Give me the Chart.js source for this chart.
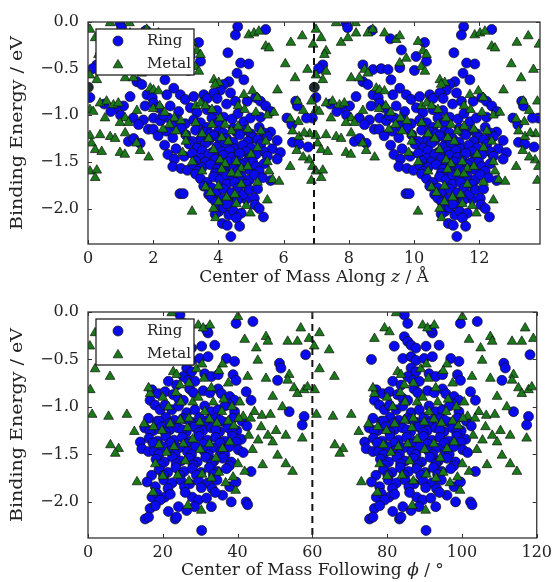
<!DOCTYPE html>
<html>
<head>
<meta charset="utf-8">
<script src="https://cdn.jsdelivr.net/npm/chart.js@4/dist/chart.umd.min.js"></script>
<style>
  html, body { margin: 0; padding: 0; background: #fff; }
  #wrap { position: relative; width: 557px; height: 582px; }
  canvas { position: absolute; left: 0; }
  #alongZ { top: 0; }
  #followPhi { top: 290px; }
</style>
</head>
<body>
<div id="wrap">
  <canvas id="alongZ" width="557" height="290"></canvas>
  <canvas id="followPhi" width="557" height="292"></canvas>
</div>
<script>
// Binding energies (eV) against centre-of-mass position, one period of each
// coordinate; the second period is the periodic image of the same points.
const zPeriod = 6.93;      // Å
const phiPeriod = 60;      // degrees
const zTicks = [0, 2, 4, 6, 8, 10, 12];
const phiTicks = [0, 20, 40, 60, 80, 100, 120];
const energyTicks = [0, -0.5, -1.0, -1.5, -2.0];

const ringAlongZ = [
  [0.98,-0.01],[1.03,-0.06],[4.59,-0.05],[4.52,-0.14],[5.45,-0.08],[1.78,-0.09],[2.34,-0.18],
  [3.39,-0.22],[2.68,-0.30],[3.13,-0.37],[3.45,-0.42],[4.29,-0.33],[4.68,-0.44],[4.93,-0.45],
  [1.50,-0.46],[1.81,-0.51],[2.06,-0.50],[2.27,-0.51],[2.63,-0.49],[3.08,-0.52],[0.27,-0.46],
  [0.14,-0.50],[4.57,-0.55],[4.78,-0.62],[4.32,-0.64],[4.16,-0.67],[4.06,-0.73],[2.36,-0.62],
  [2.63,-0.71],[2.42,-0.78],[1.50,-0.64],[1.65,-0.67],[1.81,-0.78],[1.97,-0.81],[1.29,-0.80],
  [2.83,-0.78],[2.98,-0.83],[3.24,-0.80],[3.55,-0.78],[3.65,-0.82],[3.86,-0.76],[3.96,-0.82],
  [4.37,-0.76],[4.52,-0.85],[4.88,-0.85],[5.14,-0.81],[5.29,-0.85],[5.45,-0.90],[5.60,-0.96],
  [6.37,-0.85],[6.42,-0.90],[6.88,-1.03],[0.06,-0.81],[1.09,-0.90],[0.83,-0.92],[1.75,-0.90],
  [2.01,-0.87],[2.16,-0.92],[2.52,-0.90],[2.78,-0.96],[3.14,-0.92],[3.34,-0.97],[3.65,-0.94],
  [1.39,-1.03],[1.70,-1.05],[2.01,-1.03],[2.22,-1.06],[2.47,-1.03],[2.72,-1.05],[2.98,-1.09],
  [3.24,-1.05],[3.80,-1.03],[4.01,-1.07],[4.16,-1.02],[4.42,-1.04],[4.78,-1.07],[4.98,-1.03],
  [5.29,-1.02],[6.10,-1.03],[6.25,-1.10],[6.70,-1.03],
  [0.50,-0.88],[0.70,-0.96],[1.00,-1.00],[1.55,-1.10],[1.85,-1.15],[2.30,-1.00],[2.60,-1.12],
  [3.45,-1.08],[3.95,-0.95],[4.25,-0.88],[4.60,-0.98],
  [2.00,-1.15],[2.40,-1.17],[2.85,-1.14],[3.30,-1.16],[3.65,-1.13],[4.00,-1.17],[4.45,-1.14],
  [4.85,-1.16],[5.25,-1.13],[5.60,-1.18],[6.27,-1.29],[6.47,-1.31],[6.75,-1.34],
  [3.55,-1.18],[3.75,-1.20],[4.15,-1.19],[4.55,-1.18],[5.00,-1.20],[5.40,-1.19],
  [1.24,-1.28],[1.60,-1.30],[1.40,-1.25],[2.15,-1.22],[2.60,-1.24],[3.00,-1.21],[3.45,-1.26],
  [3.85,-1.22],[4.25,-1.25],[4.65,-1.21],[5.05,-1.24],[5.50,-1.23],[5.80,-1.27],
  [3.20,-1.28],[3.70,-1.27],[4.05,-1.27],[4.45,-1.29],[4.90,-1.28],[5.20,-1.26],
  [2.35,-1.32],[2.70,-1.36],[3.10,-1.31],[3.35,-1.35],[3.60,-1.30],[3.95,-1.34],[4.20,-1.30],
  [4.50,-1.36],[4.75,-1.32],[5.00,-1.35],[5.30,-1.31],[5.65,-1.36],[5.90,-1.40],
  [3.50,-1.38],[3.80,-1.40],[4.10,-1.39],[4.35,-1.38],[4.85,-1.39],[5.40,-1.39],
  [2.45,-1.42],[2.65,-1.47],[2.95,-1.44],[3.20,-1.41],[3.45,-1.46],[3.70,-1.42],[3.90,-1.47],
  [4.15,-1.43],[4.40,-1.45],[4.65,-1.41],[4.95,-1.46],[5.15,-1.42],[5.50,-1.44],[5.80,-1.47],
  [3.30,-1.49],[3.60,-1.50],[4.05,-1.51],[4.30,-1.50],[4.55,-1.49],[4.80,-1.51],[5.05,-1.50],
  [2.60,-1.55],[2.85,-1.57],[3.05,-1.59],[3.25,-1.54],[3.50,-1.56],[3.75,-1.53],[3.95,-1.58],
  [4.20,-1.55],[4.45,-1.57],[4.70,-1.53],[4.90,-1.58],[5.15,-1.55],[5.40,-1.52],
  [3.35,-1.60],[3.90,-1.62],[4.15,-1.60],[4.60,-1.60],[5.25,-1.60],
  [3.30,-1.63],[3.45,-1.68],[3.65,-1.72],[3.85,-1.66],[4.05,-1.69],[4.25,-1.64],[4.45,-1.70],
  [4.70,-1.66],[4.95,-1.69],[5.10,-1.64],[5.35,-1.67],[5.60,-1.70],
  [3.55,-1.76],[4.25,-1.74],[4.50,-1.72],[4.85,-1.74],[3.70,-1.85],[4.30,-1.88],[4.85,-1.90],
  [2.82,-1.84],[2.92,-1.84],[3.80,-1.78],[3.95,-1.82],[4.15,-1.79],[4.40,-1.83],[4.60,-1.78],
  [4.75,-1.85],[4.95,-1.80],[5.20,-1.79],[3.80,-1.89],[3.92,-1.93],[4.10,-1.90],[4.40,-1.95],
  [4.58,-1.91],[5.10,-1.89],[5.12,-1.96],[4.02,-2.03],[4.16,-1.99],[4.32,-2.07],[4.47,-2.03],
  [4.25,-1.95],[4.70,-2.05],[3.90,-2.06],[4.55,-2.10],
  [4.12,-2.16],[4.27,-2.18],[4.65,-2.19],[5.38,-2.09],[5.25,-2.00],[4.38,-2.30]
];

const metalAlongZ = [
  [0.68,-0.01],[1.27,-0.01],[0.06,-0.08],[0.22,-0.17],[0.83,-0.22],[1.04,-0.17],[1.29,-0.12],
  [1.65,-0.12],[1.80,-0.08],[2.16,-0.12],[2.52,-0.19],[2.63,-0.15],[3.19,-0.21],[3.34,-0.31],
  [3.45,-0.35],[4.93,-0.14],[5.09,-0.12],[5.24,-0.10],[5.45,-0.26],[5.55,-0.28],[6.22,-0.22],
  [6.57,-0.15],[6.90,-0.24],[0.37,-0.31],[0.32,-0.35],[0.37,-0.53],[0.27,-0.62],[0.06,-0.57],
  [1.14,-0.60],[1.39,-0.60],[1.55,-0.51],[1.65,-0.55],[1.91,-0.71],[2.01,-0.73],[2.16,-0.74],
  [2.63,-0.44],[2.83,-0.39],[3.29,-0.48],[3.40,-0.53],[3.86,-0.62],[4.01,-0.65],[3.90,-0.67],
  [4.78,-0.78],[5.04,-0.74],[5.19,-0.81],[5.81,-0.73],[6.73,-0.51],[6.42,-0.85],
  [6.05,-0.45],[6.35,-0.60],[6.60,-0.95],[6.85,-0.85],
  [0.37,-0.87],[0.57,-0.85],[0.78,-0.89],[0.93,-0.87],[0.06,-0.94],[0.16,-0.96],[0.52,-1.03],
  [1.14,-1.03],[1.24,-1.08],[0.98,-1.08],[1.50,-0.95],[2.00,-0.93],[2.20,-0.90],[2.35,-0.97],
  [2.65,-1.03],[2.85,-1.06],[3.30,-0.90],[3.45,-0.87],[3.60,-0.90],[3.80,-0.94],[4.05,-1.03],
  [4.60,-0.90],[4.80,-0.94],[5.15,-0.97],[5.50,-1.00],[5.70,-0.97],[6.20,-1.04],[6.45,-1.07],
  [6.80,-1.20],[0.06,-1.22],[0.11,-1.30],[0.37,-1.21],[0.68,-1.23],[0.83,-1.25],[0.22,-1.37],
  [0.42,-1.39],[0.98,-1.40],[1.13,-1.42],[0.06,-1.60],[0.27,-1.59],[0.22,-1.67],[1.14,-1.19],
  [1.49,-1.30],[1.60,-1.38],[1.86,-1.45],[3.19,-2.03],[3.91,-2.10],[5.50,-1.91],[4.98,-2.05],
  [5.55,-1.60],[5.66,-1.69],[5.86,-1.71],[6.47,-1.23],[6.63,-1.19],[6.27,-1.17],[6.78,-1.48],
  [6.88,-1.55],[6.40,-1.38],[6.60,-1.45],[6.20,-1.55],[6.85,-1.70],
  [3.50,-1.20],[3.70,-1.25],[4.10,-1.24],[4.30,-1.28],[4.40,-1.17],[3.85,-1.37],
  [4.05,-1.48],[4.20,-1.52],[4.55,-1.50],[4.70,-1.57],[4.40,-1.62],[4.10,-1.58],[4.60,-1.63],
  [4.90,-1.55],[5.00,-1.42],[5.20,-1.35],[5.45,-1.28],[5.30,-1.17],[4.90,-1.15],[4.60,-1.12],
  [4.20,-1.10],[3.80,-1.10],[3.30,-1.08],[3.00,-1.20],[2.70,-1.17],[2.50,-1.10],[2.30,-1.15],
  [3.60,-1.77],[3.75,-1.83],[4.00,-1.76],[4.25,-1.88],[4.50,-1.85],[4.70,-1.74],[4.55,-1.95],
  [3.85,-2.00],[4.85,-1.97],[4.00,-1.93],[5.50,-1.50],[5.20,-1.72],[2.90,-1.40],[3.20,-1.50],
  [3.50,-1.60],[3.00,-1.28]
];

// single configuration sitting on the cell boundary
const otherAlongZ = [[0.01,-0.70]];

const ringFollowPhi = [
  [24.6,-0.03],[25.5,-0.12],[39.6,-0.12],[44.1,-0.10],[24.6,-0.26],[25.5,-0.31],[26.4,-0.35],
  [27.7,-0.38],[30.4,-0.36],[33.9,-0.35],[32.1,-0.22],[31.7,-0.19],[21.9,-0.36],[15.8,-0.50],
  [24.2,-0.49],[26.4,-0.47],[27.7,-0.51],[29.9,-0.49],[32.1,-0.47],[37.0,-0.49],[39.2,-0.52],
  [58.2,-0.45],[51.2,-0.54],[51.6,-0.59],[50.7,-0.72],[26.4,-0.59],[27.7,-0.63],[25.5,-0.68],
  [26.8,-0.72],[28.6,-0.73],[31.2,-0.65],[33.0,-0.68],[34.8,-0.66],[38.8,-0.66],[39.6,-0.72],
  [21.5,-0.73],[23.7,-0.77],
  [17.1,-0.82],[18.8,-0.86],[20.6,-0.84],[22.8,-0.87],[24.2,-0.91],[25.5,-0.93],[27.2,-0.81],
  [28.2,-0.85],[30.8,-0.83],[32.6,-0.85],[34.8,-0.81],[35.7,-0.86],[37.9,-0.89],[39.2,-0.93],
  [42.3,-0.84],[43.6,-0.93],[37.5,-0.97],[16.6,-0.93],[17.9,-0.98],[19.3,-1.03],[20.6,-0.98],
  [22.4,-1.03],[24.2,-0.99],[26.4,-1.06],[28.6,-1.03],[31.2,-0.99],[33.0,-1.05],[34.8,-1.03],
  [36.6,-0.99],[39.2,-1.05],[53.8,-1.05],[57.8,-1.10],[57.3,-1.19],
  [16.2,-1.12],[18.5,-1.15],[20.8,-1.11],[23.1,-1.14],[25.4,-1.12],[27.6,-1.16],[29.8,-1.11],
  [32.0,-1.14],[34.3,-1.12],[36.5,-1.16],[38.7,-1.12],[41.2,-1.15],
  [19.0,-1.15],[21.9,-1.17],[26.4,-1.13],[30.9,-1.17],[35.4,-1.14],
  [15.2,-1.22],[17.4,-1.25],[19.6,-1.21],[21.9,-1.24],[24.1,-1.22],[26.3,-1.26],[28.5,-1.21],
  [30.7,-1.25],[33.0,-1.22],[35.2,-1.26],[37.5,-1.22],[39.8,-1.25],[42.5,-1.20],
  [16.5,-1.25],[20.7,-1.27],[25.2,-1.24],[29.6,-1.27],[34.1,-1.24],[38.6,-1.27],
  [14.0,-1.37],[14.4,-1.44],[16.3,-1.33],[18.6,-1.36],[20.8,-1.31],[23.0,-1.35],[25.2,-1.32],
  [27.4,-1.36],[29.7,-1.31],[31.9,-1.35],[34.1,-1.32],[36.4,-1.36],[38.6,-1.31],[41.0,-1.34],
  [17.4,-1.38],[22.0,-1.38],[26.3,-1.39],[30.8,-1.39],[35.3,-1.38],[39.7,-1.37],
  [16.2,-1.47],[17.7,-1.47],[20.0,-1.42],[22.2,-1.46],[24.4,-1.43],[26.6,-1.47],[28.8,-1.42],
  [31.0,-1.46],[33.3,-1.43],[35.5,-1.47],[37.7,-1.42],[40.2,-1.45],
  [19.0,-1.50],[23.3,-1.50],[27.7,-1.50],[32.2,-1.50],[36.6,-1.50],[41.5,-1.48],
  [18.2,-1.55],[20.4,-1.58],[22.6,-1.53],[24.8,-1.57],[27.0,-1.54],[29.2,-1.58],[31.5,-1.53],
  [33.7,-1.57],[36.0,-1.54],[38.3,-1.58],
  [19.4,-1.61],[23.6,-1.60],[28.1,-1.61],[33.0,-1.60],[37.8,-1.62],
  [19.0,-1.66],[21.3,-1.69],[23.5,-1.64],[25.7,-1.68],[27.9,-1.65],[30.2,-1.69],[32.4,-1.64],
  [34.6,-1.68],[37.0,-1.65],[43.6,-1.68],
  [20.2,-1.72],[24.6,-1.72],[29.0,-1.72],[33.5,-1.71],[17.0,-1.72],
  [15.8,-1.79],[18.0,-1.84],[20.3,-1.77],[22.5,-1.80],[24.8,-1.77],[27.2,-1.81],[29.6,-1.78],
  [32.0,-1.80],[34.5,-1.77],[37.9,-1.84],[39.6,-1.79],
  [21.4,-1.86],[25.8,-1.84],[30.3,-1.85],[33.2,-1.86],[20.5,-1.95],[27.9,-1.95],[36.0,-1.93],
  [17.1,-1.95],[18.4,-1.91],[19.3,-1.98],[22.0,-1.92],[26.0,-1.90],[29.5,-1.98],[31.7,-1.96],
  [34.0,-1.90],[16.6,-2.07],[18.0,-2.04],[24.2,-2.05],[26.4,-2.09],[38.3,-2.00],[42.3,-2.00],
  [21.5,-2.10],[28.5,-2.05],[33.0,-2.05],
  [42.7,-2.03],[15.3,-2.18],[16.2,-2.16],[23.3,-2.18],[23.7,-2.16],[30.4,-2.30]
];

const metalFollowPhi = [
  [22.4,-0.01],[40.1,-0.05],[19.3,-0.17],[20.6,-0.21],[29.5,-0.14],[30.8,-0.17],[32.6,-0.14],
  [41.9,-0.29],[45.0,-0.38],[47.6,-0.26],[48.1,-0.31],[53.4,-0.31],[56.0,-0.31],[56.9,-0.17],
  [59.1,-0.28],[16.6,-0.28],[1.9,-0.22],[4.5,-0.40],[0.5,-0.36],[45.4,-0.51],[47.6,-0.70],
  [49.4,-0.89],[53.8,-0.66],[53.4,-0.72],[55.1,-0.80],[56.0,-0.86],[57.8,-0.82],[58.7,-0.79],
  [16.6,-0.86],[16.2,-0.80],[22.8,-0.63],[23.7,-0.66],[24.6,-0.77],[1.9,-0.60],[5.9,-0.68],
  [0.6,-0.82],[42.7,-0.68],[36.0,-0.55],[37.5,-0.75],[35.0,-0.62],[29.0,-0.60],[30.5,-0.55],
  [1.1,-1.08],[5.5,-1.10],[10.4,-1.08],[20.0,-0.90],[21.5,-1.00],[24.8,-0.95],[28.0,-0.95],
  [29.5,-0.90],[33.5,-0.95],[36.3,-0.92],[38.5,-1.00],[40.6,-0.95],[41.5,-1.10],[44.5,-1.05],
  [46.5,-1.09],[48.8,-1.08],[52.0,-1.00],
  [23.5,-0.85],[27.0,-0.75],[33.0,-0.80],[31.0,-0.70],[31.2,-1.05],[35.8,-1.05],
  [12.4,-1.26],[13.1,-1.79],[17.4,-1.90],[26.7,-2.04],[30.3,-2.09],
  [15.0,-1.18],[17.5,-1.21],[19.8,-1.25],[22.0,-1.18],[24.7,-1.14],[27.0,-1.12],[29.9,-1.16],
  [32.5,-1.13],[34.5,-1.17],[37.5,-1.15],[40.3,-1.12],[43.5,-1.12],
  [39.0,-1.20],[26.6,-1.22],[19.0,-1.40],
  [21.0,-1.48],[23.0,-1.42],[25.5,-1.39],[28.0,-1.34],[30.0,-1.45],[32.5,-1.39],[34.2,-1.54],
  [36.0,-1.44],[37.9,-1.37],[26.0,-1.57],[24.0,-1.72],[27.0,-1.78],[30.5,-1.71],[33.0,-1.75],
  [35.0,-1.69],[36.8,-1.80],[39.5,-1.88],[18.0,-1.60],[20.0,-1.73],
  [46.3,-1.21],[48.1,-1.30],[50.3,-1.25],[52.9,-1.30],[57.3,-1.33],[49.4,-1.37],[50.7,-1.51],
  [52.9,-1.60],[54.7,-1.68],[46.7,-1.61],[41.9,-1.68],[40.1,-1.60],[38.8,-1.74],[44.0,-1.45],
  [43.0,-1.30],[45.5,-1.35],[6.0,-1.40],[8.2,-1.44],[7.3,-1.49]
];

const ringColor = '#0a0aee';
const metalColor = '#1a7a1a';
const edgeColor = '#111111';
const textColor = '#222222';
const fontFamily = '"DejaVu Serif", serif';
// the printed figure is a little taller than it is wide
const stretch = 1.12;

Chart.defaults.font.family = fontFamily;
Chart.defaults.font.size = 16;
Chart.defaults.color = textColor;

function formatEnergy(v) {
  return v.toFixed(1).replace('-', '\u2212');
}

function drawMarker(ctx, style, x, y, r, fill) {
  ctx.beginPath();
  if (style === 'triangle') {
    ctx.moveTo(x, y - r);
    ctx.lineTo(x + 0.866 * r, y + 0.5 * r);
    ctx.lineTo(x - 0.866 * r, y + 0.5 * r);
    ctx.closePath();
  } else {
    ctx.arc(x, y, r, 0, Math.PI * 2);
  }
  ctx.fillStyle = fill;
  ctx.fill();
  ctx.lineWidth = 0.7;
  ctx.strokeStyle = edgeColor;
  ctx.stroke();
}

// frame, inward ticks, dashed cell boundary, in-axes legend and axis titles
function decorations(p) {
  return {
    id: 'decorations',
    afterDatasetsDraw(chart) {
      const { ctx, chartArea: a, scales } = chart;
      ctx.save();

      const xb = scales.x.getPixelForValue(p.period);
      ctx.setLineDash([7, 5]);
      ctx.lineWidth = 2;
      ctx.strokeStyle = '#111';
      ctx.beginPath();
      ctx.moveTo(xb, a.top);
      ctx.lineTo(xb, a.bottom);
      ctx.stroke();
      ctx.setLineDash([]);

      ctx.strokeStyle = '#333';
      ctx.lineWidth = 1;
      ctx.beginPath();
      p.xTicks.forEach(v => {
        const x = Math.round(scales.x.getPixelForValue(v)) + 0.5;
        ctx.moveTo(x, a.bottom); ctx.lineTo(x, a.bottom - 4);
        ctx.moveTo(x, a.top); ctx.lineTo(x, a.top + 4);
      });
      energyTicks.forEach(v => {
        const y = Math.round(scales.y.getPixelForValue(v)) + 0.5;
        ctx.moveTo(a.left, y); ctx.lineTo(a.left + 4, y);
        ctx.moveTo(a.right, y); ctx.lineTo(a.right - 4, y);
      });
      ctx.stroke();
      ctx.lineWidth = 1.3;
      ctx.strokeRect(a.left, a.top, a.right - a.left, a.bottom - a.top);

      // legend box
      const lx = a.left + 8, ly = a.top + 7, lw = 98, lh = 46;
      ctx.fillStyle = '#fff';
      ctx.fillRect(lx, ly, lw, lh);
      ctx.strokeStyle = '#222';
      ctx.lineWidth = 1.3;
      ctx.strokeRect(lx, ly, lw, lh);
      const rows = [
        { label: 'Ring', style: 'circle', r: 5, color: ringColor },
        { label: 'Metal', style: 'triangle', r: 5.6, color: metalColor }
      ];
      rows.forEach((row, i) => {
        const y = ly + 12 + i * 23;
        drawMarker(ctx, row.style, lx + 22, y + (row.style === 'triangle' ? 1 : 0), row.r, row.color);
        ctx.fillStyle = textColor;
        ctx.font = '15px ' + fontFamily;
        ctx.textBaseline = 'middle';
        ctx.textAlign = 'left';
        ctx.fillText(row.label, lx + 51, y);
      });
      ctx.restore();
    },
    afterDraw(chart) {
      const { ctx, chartArea: a } = chart;
      ctx.save();
      ctx.fillStyle = textColor;
      ctx.textBaseline = 'middle';

      // x title, with the coordinate symbol set in italics
      const normal = '17px ' + fontFamily;
      const italic = 'italic 17px ' + fontFamily;
      const parts = p.xTitle;
      let total = 0;
      parts.forEach(([txt, it]) => { ctx.font = it ? italic : normal; total += ctx.measureText(txt).width; });
      let x = (a.left + a.right) / 2 - total / 2;
      ctx.textAlign = 'left';
      parts.forEach(([txt, it]) => {
        ctx.font = it ? italic : normal;
        ctx.fillText(txt, x, p.xTitleY);
        x += ctx.measureText(txt).width;
      });

      ctx.translate(18, (a.top + a.bottom) / 2);
      ctx.rotate(-Math.PI / 2);
      ctx.scale(stretch, 1);
      ctx.font = normal;
      ctx.textAlign = 'center';
      ctx.fillText('Binding Energy / eV', 0, 0);
      ctx.restore();
    }
  };
}

function buildPanel(canvas, p) {
  const base = { borderColor: edgeColor, borderWidth: 0.7, clip: 0 };
  const ringSet = (axis) => Object.assign({}, base, {
    label: 'Ring', data: p.ring, xAxisID: axis, order: 3,
    backgroundColor: ringColor, pointStyle: 'circle', pointRadius: 5
  });
  const metalSet = (axis) => Object.assign({}, base, {
    label: 'Metal', data: p.metal, xAxisID: axis, order: 2,
    backgroundColor: metalColor, pointStyle: 'triangle', pointRadius: 5.6
  });
  const datasets = [ringSet('x'), ringSet('xImage'), metalSet('x'), metalSet('xImage')];
  if (p.other) {
    ['x', 'xImage'].forEach(axis => datasets.push(Object.assign({}, base, {
      label: 'other', data: p.other, xAxisID: axis, order: 1,
      backgroundColor: '#1d2b2b', pointStyle: 'circle', pointRadius: 5
    })));
  }

  return new Chart(canvas, {
    type: 'scatter',
    data: { datasets },
    options: {
      responsive: false,
      animation: false,
      devicePixelRatio: 1,
      events: [],
      layout: { padding: { left: 0, right: 17, top: 22, bottom: 0 } },
      plugins: { legend: { display: false }, tooltip: { enabled: false } },
      scales: {
        x: {
          type: 'linear', min: 0, max: 2 * p.period,
          afterBuildTicks: s => { s.ticks = p.xTicks.map(v => ({ value: v })); },
          afterFit: s => { s.height = canvas.height - p.plotBottom; },
          grid: { display: false, drawTicks: false },
          border: { display: false },
          ticks: { padding: 5, maxRotation: 0, autoSkip: false, callback: v => String(v) }
        },
        // same data shifted by one period: the periodic image
        xImage: { type: 'linear', display: false, min: -p.period, max: p.period },
        y: {
          min: -2.38, max: 0,
          afterBuildTicks: s => { s.ticks = energyTicks.map(v => ({ value: v })); },
          afterFit: s => { s.width = 88; },
          grid: { display: false, drawTicks: false },
          border: { display: false },
          ticks: { padding: 9, callback: v => formatEnergy(v) }
        }
      }
    },
    plugins: [decorations(p)]
  });
}

buildPanel(document.getElementById('alongZ'), {
  ring: ringAlongZ, metal: metalAlongZ, other: otherAlongZ,
  period: zPeriod, xTicks: zTicks, plotBottom: 244, xTitleY: 278,
  xTitle: [['Center of Mass Along ', false], ['z', true], [' / \u00c5', false]]
});

buildPanel(document.getElementById('followPhi'), {
  ring: ringFollowPhi, metal: metalFollowPhi,
  period: phiPeriod, xTicks: phiTicks, plotBottom: 248, xTitleY: 281,
  xTitle: [['Center of Mass Following ', false], ['\u03d5', true], [' / \u00b0', false]]
});
</script>
</body>
</html>
